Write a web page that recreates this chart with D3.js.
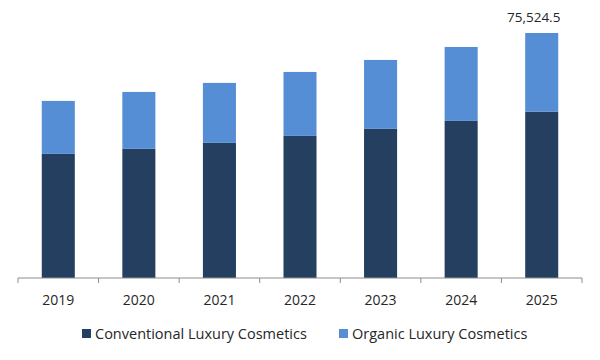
<!DOCTYPE html>
<html>
<head>
<meta charset="utf-8">
<script src="https://cdn.jsdelivr.net/npm/d3@7"></script>
<style>
  body { margin: 0; background: #fff; }
  text { font-family: "Open Sans", Lato, sans-serif; fill: #262626; }
</style>
</head>
<body>
<div id="chart"></div>
<script>
var years = ["2019", "2020", "2021", "2022", "2023", "2024", "2025"];
var conventional = [38270, 39810, 41660, 43810, 45970, 48430, 51300];
var organic = [16320, 17550, 18480, 19710, 21250, 22790, 24224.5];
var seriesNames = ["Conventional Luxury Cosmetics", "Organic Luxury Cosmetics"];
var colors = ["#243f60", "#558ed5"];

const width = 600, height = 360;

var rows = years.map(function(y, i) {
  return { year: y, conv: conventional[i], org: organic[i] };
});
var stack = d3.stack().keys(["conv", "org"])(rows);
var totals = rows.map(function(d) { return d.conv + d.org; });

var x = d3.scaleBand().domain(years).range([18, 582]).paddingInner(0.59).paddingOuter(0.295);
var y = d3.scaleLinear().domain([0, d3.max(totals)]).range([278, 33]);

var svg = d3.select("#chart").append("svg")
    .attr("width", width)
    .attr("height", height);

svg.append("g")
  .selectAll("g")
  .data(stack)
  .join("g")
    .attr("fill", function(d, i) { return colors[i]; })
  .selectAll("rect")
  .data(function(d) { return d; })
  .join("rect")
    .attr("x", function(d) { return x(d.data.year); })
    .attr("width", x.bandwidth())
    .attr("y", function(d) { return y(d[1]); })
    .attr("height", function(d) { return y(d[0]) - y(d[1]); });

// axis line with tick marks at the category boundaries
var axis = svg.append("g").attr("transform", "translate(0," + y(0) + ")");
axis.append("line")
    .attr("x1", x.range()[0]).attr("x2", x.range()[1])
    .attr("stroke", "#8c8c8c");
var bounds = d3.range(years.length + 1).map(function(i) { return x.range()[0] + i * x.step(); });
axis.selectAll(".tk")
  .data(bounds)
  .join("line")
    .attr("class", "tk")
    .attr("x1", function(d) { return d; }).attr("x2", function(d) { return d; })
    .attr("y1", 0).attr("y2", 5)
    .attr("stroke", "#8c8c8c");
axis.selectAll(".lbl")
  .data(years)
  .join("text")
    .attr("class", "lbl")
    .attr("x", function(d) { return x(d) + x.bandwidth() / 2; })
    .attr("y", 27)
    .attr("text-anchor", "middle")
    .style("font-size", "14px")
    .text(function(d) { return d; });

// value label on the last bar
var last = years.length - 1;
svg.append("text")
    .attr("x", x(years[last]) + x.bandwidth() / 2 - 8)
    .attr("y", y(totals[last]) - 11)
    .attr("text-anchor", "middle")
    .style("font-size", "13.5px")
    .text(d3.format(",.1f")(totals[last]));

// legend
var legendX = [82, 339];
var legend = svg.append("g").selectAll("g")
  .data(seriesNames)
  .join("g")
    .attr("transform", function(d, i) { return "translate(" + legendX[i] + ",328)"; });
legend.append("rect")
    .attr("width", 9).attr("height", 9).attr("y", 1)
    .attr("fill", function(d, i) { return colors[i]; });
legend.append("text")
    .attr("x", 13).attr("y", 11)
    .style("font-size", "14.5px")
    .text(function(d) { return d; });
</script>
</body>
</html>
